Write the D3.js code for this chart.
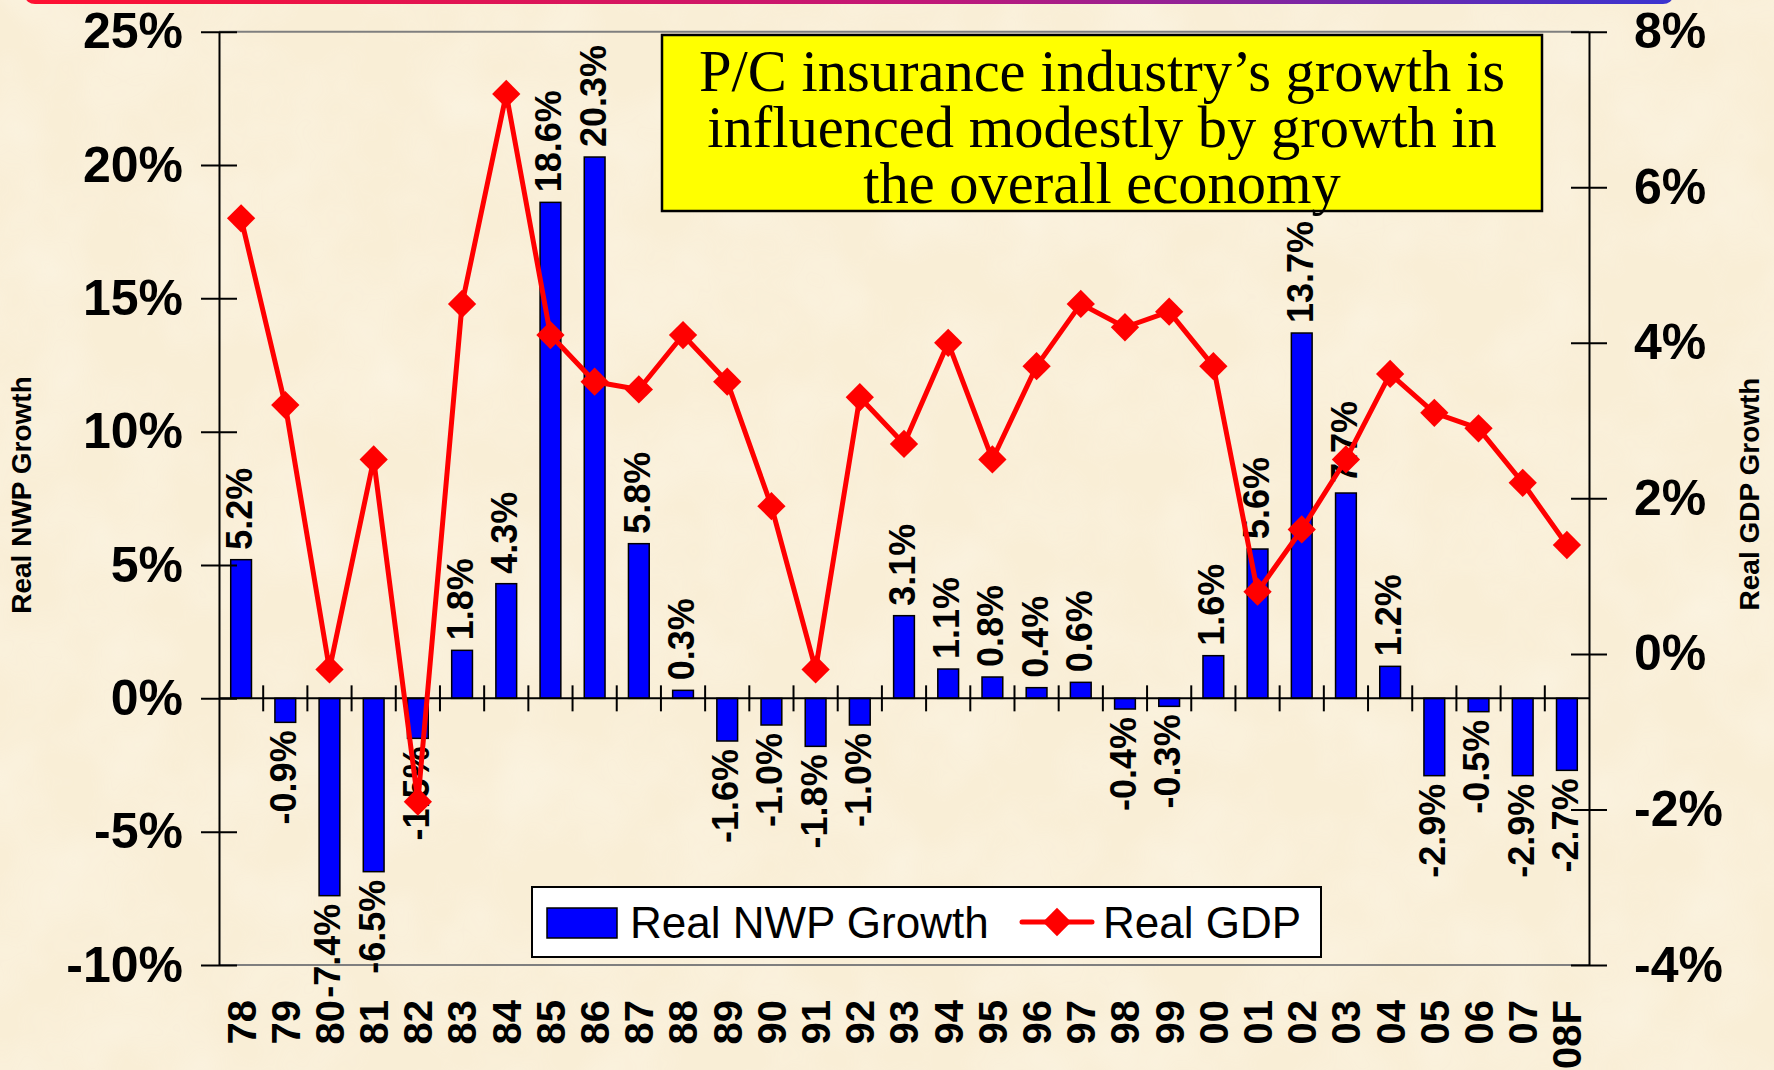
<!DOCTYPE html>
<html lang="en">
<head>
    <meta charset="UTF-8">
    <title>P/C insurance growth vs real GDP</title>
    <script src="https://d3js.org/d3.v7.min.js"></script>
    <style>
        body {
            margin: 0;
            padding: 0;
            background-color: #f9eed6;
            overflow: hidden;
        }
        svg {
            display: block;
        }
    </style>
</head>
<body>
    <div id="chart"></div>

    <script>
        // years along the bottom
        const years = ["78", "79", "80", "81", "82", "83", "84", "85", "86", "87",
            "88", "89", "90", "91", "92", "93", "94", "95", "96", "97",
            "98", "99", "00", "01", "02", "03", "04", "05", "06", "07", "08F"];

        // real net written premium growth, % (bars, left axis)
        const nwpGrowth = [5.2, -0.9, -7.4, -6.5, -1.5, 1.8, 4.3, 18.6, 20.3, 5.8,
            0.3, -1.6, -1.0, -1.8, -1.0, 3.1, 1.1, 0.8, 0.4, 0.6,
            -0.4, -0.3, 1.6, 5.6, 13.7, 7.7, 1.2, -2.9, -0.5, -2.9, -2.7];

        // real GDP growth, % (line, right axis)
        const gdpGrowth = [5.6, 3.2, -0.2, 2.5, -1.9, 4.5, 7.2, 4.1, 3.5, 3.4,
            4.1, 3.5, 1.9, -0.2, 3.3, 2.7, 4.0, 2.5, 3.7, 4.5,
            4.2, 4.4, 3.7, 0.8, 1.6, 2.5, 3.6, 3.1, 2.9, 2.2, 1.4];

        const leftTicks = [25, 20, 15, 10, 5, 0, -5, -10];
        const rightTicks = [8, 6, 4, 2, 0, -2, -4];

        const titleLines = ["P/C insurance industry\u2019s growth is",
            "influenced modestly by growth in",
            "the overall economy"];

        const width = 1774;
        const height = 1070;
        const plotLeft = 219, plotRight = 1589, plotTop = 31.7, plotBottom = 965;

        const sans = "'Liberation Sans', Arial, sans-serif";
        const serif = "'Liberation Serif', 'Times New Roman', serif";

        const svg = d3.select("#chart").append("svg")
            .attr("width", width)
            .attr("height", height);

        // parchment background
        const defs = svg.append("defs");
        const paper = defs.append("filter").attr("id", "paper")
            .attr("x", 0).attr("y", 0).attr("width", "100%").attr("height", "100%");
        paper.append("feTurbulence")
            .attr("type", "fractalNoise")
            .attr("baseFrequency", 0.012)
            .attr("numOctaves", 3)
            .attr("seed", 7);
        paper.append("feColorMatrix")
            .attr("type", "matrix")
            .attr("values", "0 0 0 0 1  0 0 0 0 0.99  0 0 0 0 0.93  0 0 0 0.9 -0.3");

        svg.append("rect")
            .attr("width", width).attr("height", height)
            .attr("fill", "#f9eed6");
        svg.append("rect")
            .attr("width", width).attr("height", height)
            .attr("filter", "url(#paper)")
            .attr("opacity", 0.55);

        // gradient strip at the very top
        const grad = defs.append("linearGradient").attr("id", "topbar");
        grad.append("stop").attr("offset", "0%").attr("stop-color", "#ff1030");
        grad.append("stop").attr("offset", "55%").attr("stop-color", "#c01878");
        grad.append("stop").attr("offset", "100%").attr("stop-color", "#3a34d0");
        svg.append("rect")
            .attr("x", 25).attr("y", -12)
            .attr("width", 1648).attr("height", 16)
            .attr("rx", 10)
            .attr("fill", "url(#topbar)");

        // scales
        const x = d3.scaleBand()
            .domain(years)
            .range([plotLeft, plotRight])
            .paddingInner(0.53)
            .paddingOuter(0.265);

        const yLeft = d3.scaleLinear().domain([-10, 25]).range([plotBottom, plotTop]);
        const yRight = d3.scaleLinear().domain([-4, 8]).range([plotBottom, plotTop]);

        // plot frame top / bottom (grey)
        svg.append("g")
            .selectAll("line")
            .data([25, -10])
            .join("line")
            .attr("x1", plotLeft).attr("x2", plotRight)
            .attr("y1", d => yLeft(d)).attr("y2", d => yLeft(d))
            .attr("stroke", "#7f7f7f")
            .attr("stroke-width", 2);

        // bars
        const barData = years.map((y, i) => ({ year: y, value: nwpGrowth[i] }));

        svg.append("g")
            .selectAll("rect")
            .data(barData)
            .join("rect")
            .attr("x", d => x(d.year))
            .attr("width", x.bandwidth())
            .attr("y", d => yLeft(Math.max(0, d.value)))
            .attr("height", d => Math.abs(yLeft(d.value) - yLeft(0)))
            .attr("fill", "#0000ff")
            .attr("stroke", "#000")
            .attr("stroke-width", 1.5);

        // zero line with category dividers
        const zeroY = yLeft(0);
        svg.append("line")
            .attr("x1", plotLeft).attr("x2", plotRight)
            .attr("y1", zeroY).attr("y2", zeroY)
            .attr("stroke", "#000")
            .attr("stroke-width", 2);

        const gap = x.step() - x.bandwidth();
        svg.append("g")
            .selectAll("line")
            .data(years.slice(1))
            .join("line")
            .attr("x1", d => x(d) - gap / 2)
            .attr("x2", d => x(d) - gap / 2)
            .attr("y1", zeroY - 13)
            .attr("y2", zeroY + 13)
            .attr("stroke", "#000")
            .attr("stroke-width", 2);

        // left axis
        const axisL = svg.append("g")
            .attr("transform", `translate(${plotLeft},0)`)
            .call(d3.axisLeft(yLeft)
                .tickValues(leftTicks)
                .tickSizeInner(18)
                .tickSizeOuter(0)
                .tickPadding(18)
                .tickFormat(d => d + "%"));
        axisL.select(".domain").attr("stroke", "#000").attr("stroke-width", 2);
        axisL.selectAll(".tick line").attr("x1", 18).attr("stroke-width", 2);
        axisL.selectAll(".tick text")
            .attr("fill", "#000")
            .style("font-family", sans)
            .style("font-weight", "bold")
            .style("font-size", "50px");

        // right axis
        const axisR = svg.append("g")
            .attr("transform", `translate(${plotRight},0)`)
            .call(d3.axisRight(yRight)
                .tickValues(rightTicks)
                .tickSizeInner(18)
                .tickSizeOuter(0)
                .tickPadding(27)
                .tickFormat(d => d + "%"));
        axisR.select(".domain").attr("stroke", "#000").attr("stroke-width", 2);
        axisR.selectAll(".tick line").attr("x1", -18).attr("stroke-width", 2);
        axisR.selectAll(".tick text")
            .attr("fill", "#000")
            .style("font-family", sans)
            .style("font-weight", "bold")
            .style("font-size", "50px");

        // axis titles
        svg.append("text")
            .attr("transform", `translate(31,495) rotate(-90)`)
            .attr("text-anchor", "middle")
            .style("font-family", sans)
            .style("font-weight", "bold")
            .style("font-size", "28px")
            .text("Real NWP Growth");

        svg.append("text")
            .attr("transform", `translate(1759,494) rotate(-90)`)
            .attr("text-anchor", "middle")
            .style("font-family", sans)
            .style("font-weight", "bold")
            .style("font-size", "28px")
            .text("Real GDP Growth");

        // year labels
        svg.append("g")
            .selectAll("text")
            .data(years)
            .join("text")
            .attr("transform", d => `translate(${x(d) + x.bandwidth() / 2},1000) rotate(-90)`)
            .attr("text-anchor", "end")
            .attr("dy", "0.36em")
            .style("font-family", sans)
            .style("font-weight", "bold")
            .style("font-size", "40px")
            .text(d => d);

        // bar value labels
        svg.append("g")
            .selectAll("text")
            .data(barData)
            .join("text")
            .attr("transform", d => {
                const cx = x(d.year) + x.bandwidth() / 2 - 2;
                const cy = d.value >= 0 ? yLeft(d.value) - 10 : yLeft(d.value) + 8;
                return `translate(${cx},${cy}) rotate(-90)`;
            })
            .attr("text-anchor", d => d.value >= 0 ? "start" : "end")
            .attr("dy", "0.36em")
            .style("font-family", sans)
            .style("font-weight", "bold")
            .style("font-size", "36px")
            .text(d => d.value.toFixed(1) + "%");

        // GDP line
        const gdpData = years.map((y, i) => ({ year: y, value: gdpGrowth[i] }));
        const line = d3.line()
            .x(d => x(d.year) + x.bandwidth() / 2)
            .y(d => yRight(d.value));

        svg.append("path")
            .datum(gdpData)
            .attr("d", line)
            .attr("fill", "none")
            .attr("stroke", "#ff0000")
            .attr("stroke-width", 5)
            .attr("stroke-linejoin", "round");

        const diamond = d3.symbol().type(d3.symbolSquare).size(400);
        svg.append("g")
            .selectAll("path")
            .data(gdpData)
            .join("path")
            .attr("d", diamond)
            .attr("transform", d => `translate(${x(d.year) + x.bandwidth() / 2},${yRight(d.value)}) rotate(45)`)
            .attr("fill", "#ff0000");

        // title box
        svg.append("rect")
            .attr("x", 662).attr("y", 35)
            .attr("width", 880).attr("height", 176)
            .attr("fill", "#ffff00")
            .attr("stroke", "#000")
            .attr("stroke-width", 2.5);

        svg.append("g")
            .selectAll("text")
            .data(titleLines)
            .join("text")
            .attr("x", 1102)
            .attr("y", (d, i) => 91 + i * 56)
            .attr("text-anchor", "middle")
            .style("font-family", serif)
            .style("font-size", "58.5px")
            .text(d => d);

        // legend
        const legend = svg.append("g");
        legend.append("rect")
            .attr("x", 532).attr("y", 887)
            .attr("width", 789).attr("height", 70)
            .attr("fill", "#fff")
            .attr("stroke", "#000")
            .attr("stroke-width", 2);
        legend.append("rect")
            .attr("x", 547).attr("y", 908)
            .attr("width", 70).attr("height", 30)
            .attr("fill", "#0000ff")
            .attr("stroke", "#000")
            .attr("stroke-width", 1.5);
        legend.append("text")
            .attr("x", 630).attr("y", 938)
            .style("font-family", sans)
            .style("font-size", "44px")
            .text("Real NWP Growth");
        legend.append("line")
            .attr("x1", 1022).attr("x2", 1092)
            .attr("y1", 922).attr("y2", 922)
            .attr("stroke", "#ff0000")
            .attr("stroke-width", 5)
            .attr("stroke-linecap", "round");
        legend.append("path")
            .attr("d", diamond)
            .attr("transform", "translate(1057,922) rotate(45)")
            .attr("fill", "#ff0000");
        legend.append("text")
            .attr("x", 1103).attr("y", 938)
            .style("font-family", sans)
            .style("font-size", "44px")
            .text("Real GDP");
    </script>
</body>
</html>
